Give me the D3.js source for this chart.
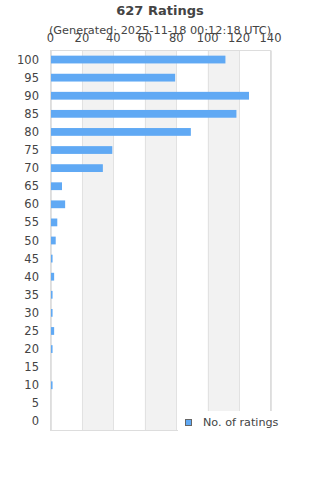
<!DOCTYPE html>
<html>
<head>
<meta charset="utf-8">
<script src="https://cdn.jsdelivr.net/npm/d3@7"></script>
<style>
	body { margin: 0; background: #fff; }
	text { font-family: "DejaVu Sans", sans-serif; fill: #444; }
</style>
</head>
<body>
<svg id="chart" width="320" height="480"></svg>
<script>
	// Rating buckets, top to bottom
	var categories = ['100', '95', '90', '85', '80', '75', '70', '65', '60', '55', '50', '45', '40', '35', '30', '25', '20', '15', '10', '5', '0'];
	// Number of ratings in each bucket
	var counts = [111, 79, 126, 118, 89, 39, 33, 7, 9, 4, 3, 1, 2, 1, 1, 2, 1, 0, 1, 0, 0];
	var xTicks = [0, 20, 40, 60, 80, 100, 120, 140];
	var seriesName = 'No. of ratings';
	var title = '627 Ratings';
	var subtitle = '(Generated: 2025-11-18 00:12:18 UTC)';

	var svg = d3.select('#chart');
	var plot = { left: 50.5, right: 270.5, top: 50.5, bottom: 430.5 };

	var x = d3.scaleLinear().domain([0, 140]).range([plot.left, plot.right]);
	var y = d3.scaleBand().domain(categories).range([plot.top, plot.bottom]).paddingInner(0.57).paddingOuter(0.285);

	// Alternating bands between ticks
	svg.append('g').selectAll('rect').data(xTicks.slice(0, -1).filter(function (d, i) { return i % 2 === 1; }))
		.enter().append('rect')
		.attr('x', function (d) { return x(d); })
		.attr('y', plot.top)
		.attr('width', function (d) { return x(d + 20) - x(d); })
		.attr('height', plot.bottom - plot.top)
		.attr('fill', '#f2f2f2');

	// Vertical grid lines
	svg.append('g').selectAll('line').data(xTicks)
		.enter().append('line')
		.attr('x1', function (d) { return Math.round(x(d)) + 0.5; })
		.attr('x2', function (d) { return Math.round(x(d)) + 0.5; })
		.attr('y1', plot.top)
		.attr('y2', plot.bottom)
		.attr('stroke', '#e2e2e2')
		.attr('stroke-width', 1);

	// Plot frame
	svg.append('rect')
		.attr('x', plot.left).attr('y', plot.top)
		.attr('width', plot.right - plot.left).attr('height', plot.bottom - plot.top)
		.attr('fill', 'none').attr('stroke', '#dddddd');

	// Bars
	svg.append('g').selectAll('rect').data(counts)
		.enter().append('rect')
		.attr('x', x(0) + 0.5)
		.attr('y', function (d, i) { return y(categories[i]); })
		.attr('width', function (d) { return Math.max(0, x(d) - x(0)); })
		.attr('height', y.bandwidth())
		.attr('fill', '#60a9f4');

	// Top axis labels
	svg.append('g').selectAll('text').data(xTicks)
		.enter().append('text')
		.attr('x', function (d) { return x(d); })
		.attr('y', 42)
		.attr('text-anchor', 'middle')
		.attr('font-size', 11.5)
		.text(function (d) { return d; });

	// Category labels
	svg.append('g').selectAll('text').data(categories)
		.enter().append('text')
		.attr('x', 39)
		.attr('y', function (d) { return y(d) + y.bandwidth() / 2 + 4; })
		.attr('text-anchor', 'end')
		.attr('font-size', 11.5)
		.text(function (d) { return d; });

	// Titles
	svg.append('text').attr('x', 160).attr('y', 15).attr('text-anchor', 'middle')
		.attr('font-size', 13).attr('font-weight', 'bold').text(title);
	svg.append('text').attr('x', 160).attr('y', 34).attr('text-anchor', 'middle')
		.attr('font-size', 11.3).text(subtitle);

	// Legend, with a white backing that covers the plot corner
	var legend = svg.append('g');
	legend.append('rect').attr('x', 178).attr('y', 411).attr('width', 142).attr('height', 30).attr('fill', '#fff');
	legend.append('rect').attr('x', 185.5).attr('y', 419.5).attr('width', 6).attr('height', 6)
		.attr('fill', '#60a9f4').attr('stroke', '#666');
	legend.append('text').attr('x', 203).attr('y', 426).attr('font-size', 11.2).text(seriesName);
</script>
</body>
</html>
